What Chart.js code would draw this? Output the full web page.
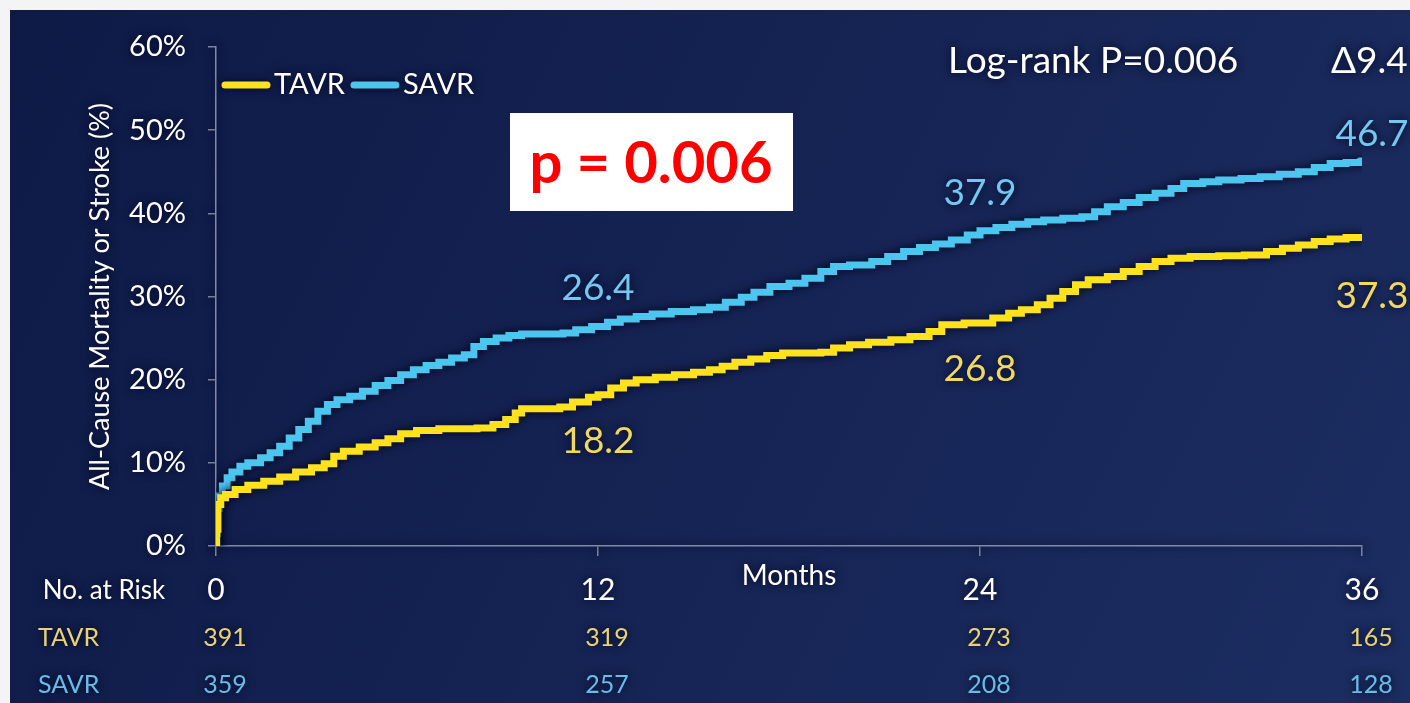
<!DOCTYPE html>
<html>
<head>
<meta charset="utf-8">
<script src="https://cdn.jsdelivr.net/npm/chart.js@4.4.1/dist/chart.umd.min.js"></script>
<style>
  html, body { margin: 0; padding: 0; background: #f4f4f4; }
  canvas { display: block; }
</style>
</head>
<body>
<canvas id="km" width="1410" height="703"></canvas>
<script>
// Kaplan-Meier curves (months, cumulative %)
var tavrMonths = [0, 0.02, 0.06, 0.15, 0.3, 0.6, 1.0, 1.5, 2.0, 2.5, 3.0, 3.4, 3.7, 4.0, 4.5, 5.0, 5.4, 5.8, 6.3, 7.0, 8.2, 8.7, 9.1, 9.4, 9.6, 10.8, 11.2, 11.7, 12.0, 12.4, 12.8, 13.2, 13.8, 14.4, 15.0, 15.5, 15.9, 16.3, 16.8, 17.3, 17.8, 19.0, 19.4, 19.9, 20.5, 21.2, 21.8, 22.4, 22.8, 23.5, 24.0, 24.4, 24.9, 25.3, 25.8, 26.2, 26.6, 27.0, 27.4, 28.0, 28.5, 29.0, 29.5, 30.0, 30.6, 31.5, 32.3, 33.0, 33.5, 34.0, 34.5, 35.0, 35.5, 36.0];
var tavrPct = [0, 2.0, 5.0, 5.8, 6.2, 6.8, 7.3, 7.8, 8.3, 8.9, 9.4, 9.9, 10.8, 11.4, 11.9, 12.4, 12.9, 13.5, 13.9, 14.1, 14.2, 14.6, 15.2, 16.0, 16.5, 16.7, 17.3, 17.9, 18.2, 19.0, 19.6, 20.0, 20.3, 20.6, 20.9, 21.2, 21.6, 22.1, 22.5, 22.9, 23.2, 23.3, 23.8, 24.2, 24.5, 24.8, 25.2, 25.8, 26.6, 26.8, 26.8, 27.4, 28.0, 28.4, 29.0, 29.8, 30.6, 31.4, 32.0, 32.4, 33.0, 33.6, 34.2, 34.6, 34.8, 34.9, 35.0, 35.4, 35.8, 36.2, 36.6, 36.9, 37.1, 37.3];

var savrMonths = [0, 0.02, 0.05, 0.1, 0.2, 0.35, 0.5, 0.75, 1.0, 1.4, 1.7, 2.0, 2.3, 2.6, 2.9, 3.2, 3.5, 3.8, 4.2, 4.6, 5.0, 5.4, 5.8, 6.2, 6.6, 7.0, 7.4, 7.8, 8.1, 8.4, 8.8, 9.2, 9.6, 10.9, 11.3, 11.8, 12.3, 12.7, 13.2, 13.7, 14.3, 15.0, 15.5, 16.0, 16.5, 16.9, 17.4, 18.0, 18.5, 19.0, 19.4, 19.9, 20.6, 21.1, 21.6, 22.1, 22.6, 23.1, 23.6, 24.0, 24.5, 25.0, 25.5, 26.0, 26.6, 27.2, 27.6, 28.0, 28.5, 29.0, 29.5, 30.0, 30.4, 31.0, 31.5, 32.2, 32.8, 33.4, 34.0, 34.5, 35.0, 35.5, 35.95, 36.0];
var savrPct = [0, 1.5, 4.5, 6.0, 7.2, 8.2, 8.9, 9.6, 10.0, 10.6, 11.2, 12.0, 13.0, 14.0, 15.0, 16.2, 17.0, 17.6, 18.0, 18.6, 19.3, 19.9, 20.6, 21.2, 21.7, 22.1, 22.6, 23.0, 24.0, 24.6, 25.0, 25.3, 25.5, 25.6, 26.0, 26.4, 26.9, 27.3, 27.6, 27.9, 28.2, 28.4, 28.7, 29.3, 29.9, 30.5, 31.2, 31.6, 32.2, 33.0, 33.6, 33.8, 34.2, 34.8, 35.4, 35.9, 36.3, 36.8, 37.4, 37.9, 38.3, 38.7, 39.0, 39.2, 39.4, 39.6, 40.2, 40.8, 41.3, 41.9, 42.4, 43.0, 43.6, 43.8, 44.0, 44.2, 44.4, 44.7, 45.0, 45.5, 46.0, 46.1, 46.2, 46.7];

// labelled rates at 12, 24 and 36 months
var labelMonths = [12, 24, 36];
var tavrLabels = ['18.2', '26.8', '37.3'];
var savrLabels = ['26.4', '37.9', '46.7'];

// number at risk table
var riskMonths = [0, 12, 24, 36];
var tavrRisk = [391, 319, 273, 165];
var savrRisk = [359, 257, 208, 128];

var yTicks = [0, 10, 20, 30, 40, 50, 60];

var yellow = '#ffe21e';
var cyan = '#4cc6ef';
var yellowText = '#f0d95e';
var cyanText = '#72c8ee';
var riskYellow = '#e9d274';
var riskCyan = '#68bde6';
var axisColor = '#8089a8';
var glow = 'rgba(0, 3, 28, 1)';
var FONT = 'Lato, "Open Sans", sans-serif';

function toPoints(xs, ys) {
    return xs.map(function (x, i) { return { x: x, y: ys[i] }; });
}

var background = {
    id: 'background',
    beforeDraw: function (chart) {
        var ctx = chart.ctx;
        ctx.save();
        ctx.shadowBlur = 0;
        ctx.fillStyle = '#f4f4f4';
        ctx.fillRect(0, 0, chart.width, chart.height);
        var g = ctx.createLinearGradient(10, 10, chart.width, chart.height);
        g.addColorStop(0, '#0e1a46');
        g.addColorStop(1, '#1c2d61');
        ctx.fillStyle = g;
        ctx.fillRect(10, 10, chart.width - 10, chart.height - 10);
        ctx.restore();
        // dark halo round lines and text, like the slide
        ctx.shadowColor = glow;
        ctx.shadowBlur = 10;
    }
};

function glowText(ctx, text, x, y, color, font, align) {
    ctx.font = font;
    ctx.fillStyle = color;
    ctx.textAlign = align || 'left';
    ctx.textBaseline = 'middle';
    ctx.shadowColor = glow;
    ctx.shadowBlur = 10;
    ctx.fillText(text, x, y);
}

var extras = {
    id: 'extras',
    afterDraw: function (chart) {
        var ctx = chart.ctx;
        var xs = chart.scales.x, ys = chart.scales.y;
        var area = chart.chartArea;
        ctx.save();

        // legend
        var lx = area.left + 6, ly = 85;
        chart.data.datasets.forEach(function (ds) {
            ctx.shadowColor = glow;
            ctx.shadowBlur = 8;
            ctx.strokeStyle = ds.borderColor;
            ctx.lineWidth = 7;
            ctx.lineCap = 'round';
            ctx.beginPath();
            ctx.moveTo(lx + 3, ly);
            ctx.lineTo(lx + 45, ly);
            ctx.stroke();
            glowText(ctx, ds.label, lx + 52, ly, '#ffffff', '29px ' + FONT);
            lx += 52 + ctx.measureText(ds.label).width + 6;
        });

        // rate labels along the curves
        labelMonths.forEach(function (m, i) {
            var last = i === labelMonths.length - 1;
            var px = xs.getPixelForValue(m) + (last ? 10 : 0);
            var sy = ys.getPixelForValue(parseFloat(savrLabels[i]));
            var ty = ys.getPixelForValue(parseFloat(tavrLabels[i]));
            glowText(ctx, savrLabels[i], px, sy + (last ? -24 : -38), cyanText, '37px ' + FONT, 'center');
            glowText(ctx, tavrLabels[i], px, ty + (last ? 60 : 46), yellowText, '37px ' + FONT, 'center');
        });

        // log-rank and difference
        glowText(ctx, 'Log-rank P=0.006', 948, 61, '#ffffff', '37px ' + FONT);
        glowText(ctx, '\u03949.4', 1331, 61, '#ffffff', '37px ' + FONT);

        // number at risk
        glowText(ctx, 'No. at Risk', 104, 591, '#ffffff', '26px ' + FONT, 'center');
        glowText(ctx, 'TAVR', 38, 638, riskYellow, '25px ' + FONT);
        glowText(ctx, 'SAVR', 38, 685, riskCyan, '25px ' + FONT);
        riskMonths.forEach(function (m, i) {
            var px = xs.getPixelForValue(m) + 9;
            glowText(ctx, String(tavrRisk[i]), px, 638, riskYellow, '25px ' + FONT, 'center');
            glowText(ctx, String(savrRisk[i]), px, 685, riskCyan, '25px ' + FONT, 'center');
        });

        // white call-out box
        ctx.shadowBlur = 0;
        ctx.shadowColor = 'transparent';
        ctx.fillStyle = '#ffffff';
        ctx.fillRect(510, 113, 283, 98);
        ctx.fillStyle = '#ff0000';
        ctx.font = 'bold 58px ' + FONT;
        ctx.textAlign = 'center';
        ctx.textBaseline = 'middle';
        ctx.fillText('p = 0.006', 651, 164);

        ctx.restore();
    }
};

var ctx = document.getElementById('km').getContext('2d');
var kmChart = new Chart(ctx, {
    type: 'line',
    data: {
        datasets: [{
            label: 'TAVR',
            data: toPoints(tavrMonths, tavrPct),
            borderColor: yellow,
            backgroundColor: yellow,
            borderWidth: 7,
            stepped: true,
            pointRadius: 0,
            fill: false
        }, {
            label: 'SAVR',
            data: toPoints(savrMonths, savrPct),
            borderColor: cyan,
            backgroundColor: cyan,
            borderWidth: 7,
            stepped: true,
            pointRadius: 0,
            fill: false
        }]
    },
    options: {
        responsive: false,
        animation: false,
        layout: {
            padding: { top: 47, right: 48, left: 0, bottom: 0 }
        },
        plugins: {
            legend: { display: false },
            tooltip: { enabled: false }
        },
        scales: {
            x: {
                type: 'linear',
                min: 0,
                max: 36,
                afterFit: function (scale) { scale.height = 157; },
                ticks: {
                    stepSize: 12,
                    color: '#ffffff',
                    font: { family: FONT, size: 30 },
                    padding: 16,
                    maxRotation: 0
                },
                grid: {
                    drawOnChartArea: false,
                    drawTicks: true,
                    tickLength: 10,
                    color: axisColor,
                    lineWidth: 1.5
                },
                border: { color: axisColor, width: 1.5 },
                title: {
                    display: true,
                    text: 'Months',
                    color: '#ffffff',
                    font: { family: FONT, size: 28 },
                    padding: { top: 0, bottom: 110 }
                }
            },
            y: {
                min: 0,
                max: 60,
                afterFit: function (scale) { scale.width = 216; },
                afterBuildTicks: function (scale) {
                    scale.ticks = yTicks.map(function (v) { return { value: v }; });
                },
                ticks: {
                    color: '#ffffff',
                    font: { family: FONT, size: 29 },
                    padding: 22,
                    callback: function (v) { return v + '%'; }
                },
                grid: {
                    drawOnChartArea: false,
                    drawTicks: true,
                    tickLength: 8,
                    color: axisColor,
                    lineWidth: 1.5
                },
                border: { color: axisColor, width: 1.5 },
                title: {
                    display: true,
                    text: 'All-Cause Mortality or Stroke (%)',
                    color: '#ffffff',
                    font: { family: FONT, size: 27 },
                    padding: { top: 84, bottom: 0 }
                }
            }
        }
    },
    plugins: [background, extras]
});
</script>
</body>
</html>
